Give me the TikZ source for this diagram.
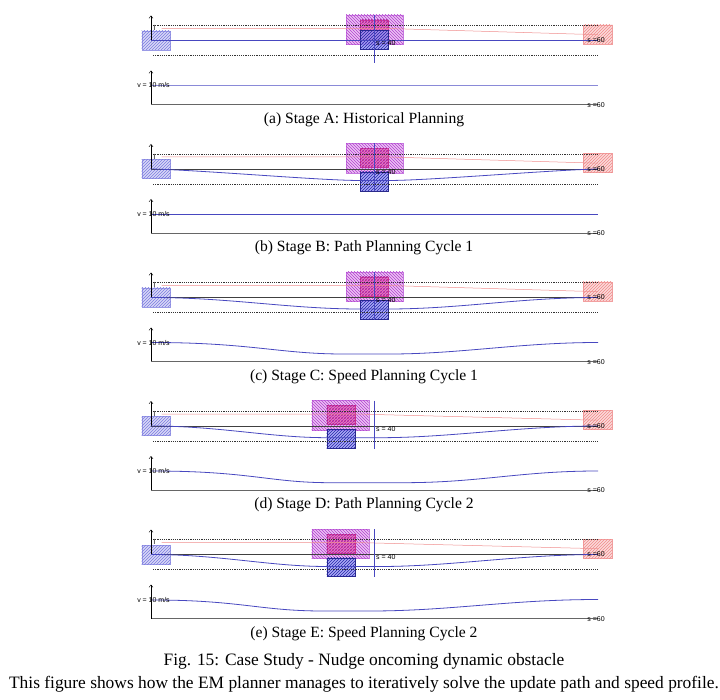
\documentclass[tikz,border=0pt]{standalone}
\usepackage{fontspec}
\setmainfont{Liberation Serif}
\setsansfont{Liberation Sans}
\usetikzlibrary{patterns,arrows.meta}
\definecolor{egofill}{HTML}{D8D8F6}
\definecolor{egohatch}{HTML}{7B7BE0}
\definecolor{egoline}{HTML}{9A9AE6}
\definecolor{goalfill}{HTML}{FBDADA}
\definecolor{goalhatch}{HTML}{F08A8A}
\definecolor{goalline}{HTML}{F2A0A0}
\definecolor{zonefill}{HTML}{EBC2F3}
\definecolor{zonehatch}{HTML}{B33FCF}
\definecolor{zoneline}{HTML}{C77AE0}
\definecolor{pinkfill}{HTML}{F27CBC}
\definecolor{pinkhatch}{HTML}{B0207A}
\definecolor{pinkline}{HTML}{D0308A}
\definecolor{obsfill}{HTML}{9494F4}
\definecolor{obshatch}{HTML}{2424A8}
\definecolor{obsline}{HTML}{2A2A8A}
\definecolor{pathblue}{HTML}{4848C0}
\definecolor{speedlight}{HTML}{8A8AD8}
\definecolor{redref}{HTML}{F09090}
\tikzset{
  egobox/.style={draw=egoline, line width=0.4pt, fill=egofill, postaction={pattern=north east lines, pattern color=egohatch}},
  goalbox/.style={draw=goalline, line width=0.4pt, fill=goalfill, postaction={pattern=north east lines, pattern color=goalhatch}},
  zonebox/.style={draw=zoneline, line width=0.4pt, fill=zonefill, postaction={pattern=north west lines, pattern color=zonehatch}},
  pinkbox/.style={draw=pinkline, line width=0.4pt, fill=pinkfill, postaction={pattern=north east lines, pattern color=pinkhatch}, postaction={pattern=north west lines, pattern color=zonehatch}},
  obsbox/.style={draw=obsline, line width=0.4pt, fill=obsfill, fill opacity=0.8, postaction={pattern=north east lines, pattern color=obshatch}},
  bound/.style={black!80, line width=0.5pt, dash pattern=on 1.2pt off 1pt},
  refline/.style={black!75, line width=0.5pt},
  axisline/.style={black!60, line width=0.4pt},
  pathline/.style={pathblue, line width=0.8pt},
  sline/.style={pathblue, line width=0.7pt},
  redline/.style={redref, line width=0.5pt},
  axisarrow/.style={black, line width=0.4pt, -{Straight Barb[length=2.5pt,width=4pt]}},
  tinylabel/.style={font=\sffamily\fontsize{7}{8}\selectfont, inner sep=0pt},
  subcap/.style={font=\fontsize{15.6}{18}\selectfont, inner sep=0pt},
  figcap/.style={font=\fontsize{17.4}{20}\selectfont, inner sep=0pt},
}
% #1 centre y, #2 zone left x, #3 obstacle left x, #4 obstacle top offset, #5 name letter
\newcommand\stagetop[5]{%
  \draw[egobox] (141.7,{#1-9.5}) rectangle (170.5,{#1+9.5});
  \draw[goalbox] (583,{#1-15.5}) rectangle (612,{#1+3.5});
  \draw[zonebox] (#2,{#1-25.5}) rectangle ({#2+57},{#1+4});
  \draw[pinkbox] (#3,{#1-20.5}) rectangle ({#3+28.3},{#1-1.5});
  \draw[obsbox] (#3,{#1+#4}) rectangle ({#3+28.3},{#1+#4+18.8});
  \draw[bound] (153,{#1-15}) -- (598,{#1-15});
  \draw[bound] (153,{#1+15}) -- (598,{#1+15});
  \draw[redline] (161.7,{#1-12}) -- ({#3+28.3},{#1-12}) -- (598,{#1-5.8});
  \draw[refline] (151,#1) -- (598,#1);
  \draw[axisarrow] (151,#1) -- (151,{#1-25});
  \draw[sline] (374.3,{#1-25.5}) -- (374.3,{#1+22.5});
  \node[tinylabel] (l#5) at (154.5,{#1-12.5}) {l};
  \draw[axisline] (151,{#1+64}) -- (598,{#1+64});
  \draw[axisarrow] (151,{#1+64}) -- (151,{#1+30});
}
\newcommand\stagelabels[2]{%
  \node[tinylabel, anchor=west] (s40#2) at (376,{#1+3}) {s = 40};
  \node[tinylabel] (s60#2) at (596,#1) {s =60};
  \node[tinylabel] (v#2) at (153.5,{#1+45}) {v = 10 m/s};
  \node[tinylabel] (sb#2) at (596,{#1+64.5}) {s =60};
}
\begin{document}
\begin{tikzpicture}[x=1pt,y=-1pt]
\useasboundingbox (0,0) rectangle (720,700);
\fill[white] (0,0) rectangle (720,700);
% ---------- Stage A
\def\c{40.5}
\stagetop{\c}{346}{360}{-10}{a}
\draw[pathline] (151,\c) -- (598,\c);
\draw[speedlight, line width=0.8pt] (152,{\c+45}) -- (598,{\c+45});
\stagelabels{\c}{a}
\node[subcap] (capa) at (364,{\c+79}) {(a) Stage A: Historical Planning};
% ---------- Stage B
\def\c{169}
\stagetop{\c}{346}{360}{3}{b}
\draw[pathline] (151,\c) .. controls (200,{\c+1}) and (320,{\c+11.5}) .. (360,{\c+11.5}) -- (388,{\c+11.5}) .. controls (430,{\c+11.5}) and (550,{\c+1}) .. (598,\c);
\draw[pathline] (152,{\c+45}) -- (598,{\c+45});
\stagelabels{\c}{b}
\node[subcap] (capb) at (364,{\c+79}) {(b) Stage B: Path Planning Cycle 1};
% ---------- Stage C
\def\c{297.5}
\stagetop{\c}{346}{360}{3}{c}
\draw[pathline] (151,\c) .. controls (230,\c) and (290,{\c+11.5}) .. (360,{\c+11.5}) -- (388,{\c+11.5}) .. controls (460,{\c+11.5}) and (520,\c) .. (598,\c);
\draw[pathline] (152,{\c+45}) .. controls (250,{\c+45}) and (280,{\c+56.5}) .. (343,{\c+56.5}) -- (390,{\c+56.5}) .. controls (460,{\c+56.5}) and (520,{\c+45}) .. (598,{\c+45});
\stagelabels{\c}{c}
\node[subcap] (capc) at (364,{\c+79}) {(c) Stage C: Speed Planning Cycle 1};
% ---------- Stage D
\def\c{426}
\stagetop{\c}{311.7}{326.7}{3.3}{d}
\draw[pathline] (151,\c) .. controls (220,\c) and (270,{\c+11.7}) .. (327,{\c+11.7}) -- (380,{\c+11.7}) .. controls (450,{\c+11.7}) and (520,\c) .. (598,\c);
\draw[pathline] (152,{\c+45}) .. controls (250,{\c+45}) and (270,{\c+56.7}) .. (330,{\c+56.7}) -- (403,{\c+56.7}) .. controls (480,{\c+56.7}) and (520,{\c+45}) .. (598,{\c+45});
\stagelabels{\c}{d}
\node[subcap] (capd) at (364,{\c+79}) {(d) Stage D: Path Planning Cycle 2};
% ---------- Stage E
\def\c{554.5}
\stagetop{\c}{311.7}{326.7}{3.3}{e}
\draw[pathline] (151,\c) .. controls (220,\c) and (270,{\c+12}) .. (327,{\c+12}) -- (380,{\c+12}) .. controls (450,{\c+12}) and (520,\c) .. (598,\c);
\draw[pathline] (152,{\c+45.5}) .. controls (240,{\c+45.5}) and (260,{\c+56.5}) .. (323,{\c+56.5}) -- (370,{\c+56.5}) .. controls (450,{\c+56.5}) and (510,{\c+45}) .. (598,{\c+45});
\stagelabels{\c}{e}
\node[subcap] (cape) at (364,{\c+79}) {(e) Stage E: Speed Planning Cycle 2};
% ---------- figure caption
\node[figcap] (fig1) at (364,661) {Fig. 15: Case Study - Nudge oncoming dynamic obstacle};
\node[figcap] (fig2) at (364,684) {This figure shows how the EM planner manages to iteratively solve the update path and speed profile.};
\end{tikzpicture}
\end{document}
